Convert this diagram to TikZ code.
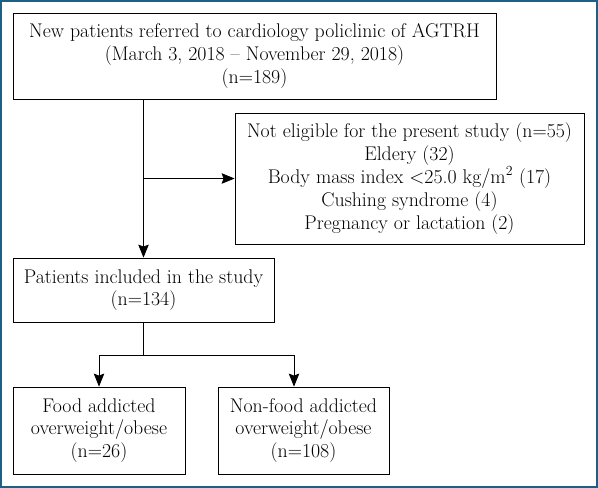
\documentclass[tikz,border=0pt]{standalone}
\usepackage{fontspec}
\usepackage{tikz}
\usetikzlibrary{arrows.meta}

\definecolor{framecol}{RGB}{28,96,134}

\begin{document}
\begin{tikzpicture}[x=1pt,y=-1pt,
    box/.style={draw,line width=0.8pt,align=center,inner sep=0pt,
      font=\fontsize{19.8}{22.8}\selectfont},
    arr/.style={line width=0.8pt,-{Stealth[length=13pt,width=10.5pt,inset=2pt]}}]
  \useasboundingbox (0,0) rectangle (598,488);
  \draw[framecol,line width=2.2pt] (1,1) rectangle (597,487);
  \node[box,minimum width=483pt,minimum height=86pt] (referred) at (254.5,56)
    {New patients referred to cardiology policlinic of AGTRH\\
     (March 3, 2018 – November 29, 2018)\\ (n=189)};
  \node[box,minimum width=349pt,minimum height=131pt] (excluded) at (409.5,178.5)
    {Not eligible for the present study (n=55)\\ Eldery (32)\\
     Body mass index <25.0 kg/m\textsuperscript{2} (17)\\
     Cushing syndrome (4)\\ Pregnancy or lactation (2)};
  \node[box,minimum width=261pt,minimum height=64pt] (included) at (143.5,290)
    {Patients included in the study\\ (n=134)};
  \node[box,minimum width=172pt,minimum height=87pt] (food) at (99,430.5)
    {Food addicted\\ overweight/obese\\ (n=26)};
  \node[box,minimum width=171pt,minimum height=87pt] (nonfood) at (303.5,430.5)
    {Non-food addicted\\ overweight/obese\\ (n=108)};
  \coordinate (branch) at (included.north |- excluded.west);
  \coordinate (split) at (included.south |- 0,355);
  \coordinate (left) at (food.north |- split);
  \coordinate (right) at (294,355);
  \draw[arr] (referred.south -| included.north) -- (included.north);
  \draw[arr] (branch) -- (excluded.west);
  \draw[line width=0.8pt] (included.south) -- (split);
  \draw[line width=0.8pt] (left) -- (right);
  \draw[arr] (left) -- (food.north);
  \draw[arr] (right) -- (right |- nonfood.north);
\end{tikzpicture}
\end{document}
